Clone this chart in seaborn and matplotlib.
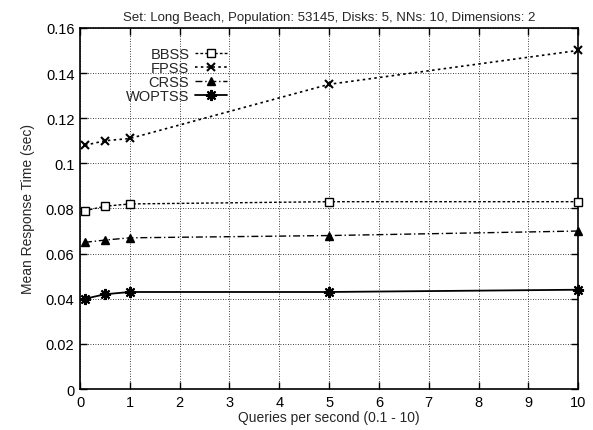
import matplotlib
matplotlib.use("Agg")
import matplotlib.pyplot as plt
import seaborn as sns
import pandas as pd

# Measured mean response times for each declustering scheme
queries_per_sec = [0.1, 0.5, 1, 5, 10]
bbss = [0.079, 0.081, 0.082, 0.083, 0.083]
fpss = [0.108, 0.110, 0.111, 0.135, 0.150]
crss = [0.065, 0.066, 0.067, 0.068, 0.070]
woptss = [0.040, 0.042, 0.043, 0.043, 0.044]
series_names = ["BBSS", "FPSS", "CRSS", "WOPTSS"]
x_ticks = list(range(0, 11))
y_ticks = [0, 0.02, 0.04, 0.06, 0.08, 0.1, 0.12, 0.14, 0.16]

rows = []
for name, vals in zip(series_names, [bbss, fpss, crss, woptss]):
    for q, v in zip(queries_per_sec, vals):
        rows.append({"qps": q, "time": v, "scheme": name})
df = pd.DataFrame(rows)

sns.set_theme(style="white")
plt.rcParams["font.family"] = ["Liberation Sans", "DejaVu Sans"]

fig = plt.figure(figsize=(5.93, 4.31), dpi=100)
ax = fig.add_axes([0.135, 0.095, 0.84, 0.838])

styles = {
    "BBSS": dict(linestyle=(0, (2, 1.5)), marker="s", markerfacecolor="white",
                 markersize=5.5, markeredgewidth=1.0, linewidth=1.0),
    "FPSS": dict(linestyle=(0, (1.5, 2)), marker="x", markersize=6,
                 markeredgewidth=1.5, linewidth=1.2),
    "CRSS": dict(linestyle=(0, (5, 2, 1, 2)), marker="^", markersize=6,
                 markeredgewidth=1.0, linewidth=1.0),
    "WOPTSS": dict(linestyle="-", marker=(8, 2, 0), markersize=8,
                   markeredgewidth=1.5, linewidth=1.3),
}

for name in series_names:
    sub = df[df["scheme"] == name]
    sns.lineplot(data=sub, x="qps", y="time", ax=ax, color="black",
                 markeredgecolor="black", label=name, clip_on=False,
                 zorder=3, **styles[name])

ax.set_xlim(0, 10)
ax.set_ylim(0, 0.16)
ax.set_xticks(x_ticks)
ax.set_yticks(y_ticks)
ax.set_yticklabels(["0", "0.02", "0.04", "0.06", "0.08", "0.1", "0.12", "0.14", "0.16"])
ax.grid(True, color="black", linestyle=(0, (1, 2)), linewidth=0.6)
ax.tick_params(direction="in", length=5, width=1.0, top=True, right=True,
               bottom=True, left=True, labelsize=10.5, colors="black", pad=4)
for sp in ax.spines.values():
    sp.set_color("black")
    sp.set_linewidth(1.2)

ax.set_xlabel("Queries per second (0.1 - 10)", fontsize=10, labelpad=1)
ax.set_ylabel("Mean Response Time (sec)", fontsize=10, labelpad=8)
ax.set_title("Set: Long Beach, Population: 53145, Disks: 5, NNs: 10, Dimensions: 2",
             fontsize=9.5, pad=6)

leg = ax.legend(loc="upper left", bbox_to_anchor=(0.092, 0.948), frameon=False,
                markerfirst=False, fontsize=10.5, handlelength=2.2,
                handletextpad=0.4, labelspacing=0.0, borderaxespad=0.0,
                borderpad=0.0)
for t in leg.get_texts():
    t.set_ha("right")

fig.savefig("out.png", dpi=100)
